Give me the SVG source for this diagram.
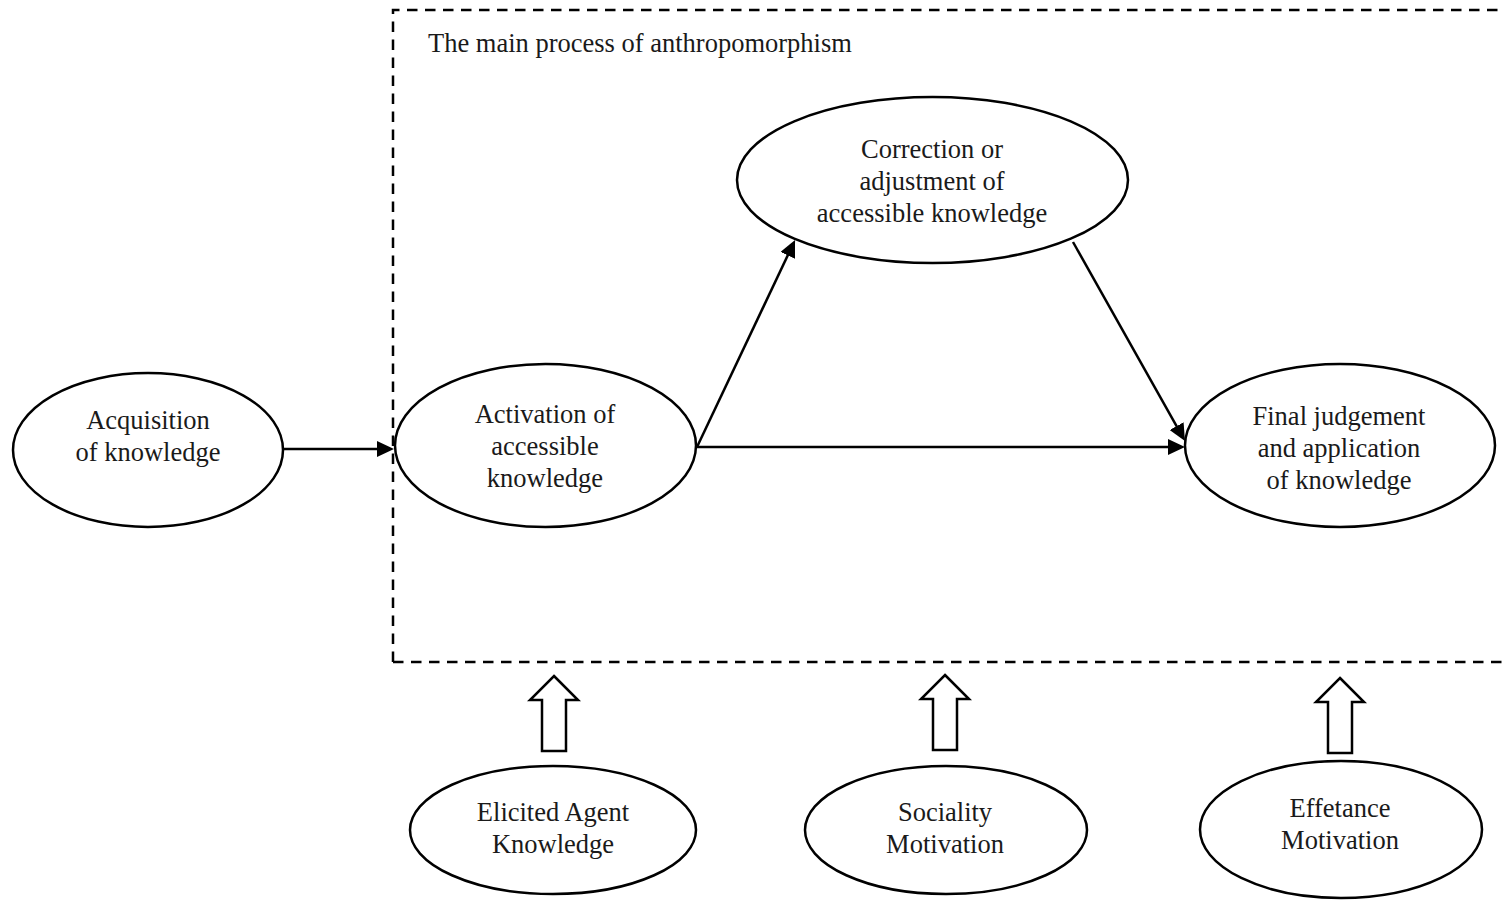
<svg xmlns="http://www.w3.org/2000/svg" width="1502" height="901" viewBox="0 0 1502 901">
<style>
.node ellipse{fill:#fff;stroke:#000;stroke-width:2.5}
.node text,.title{font-family:"Liberation Serif","Times New Roman",serif;font-size:26.5px;fill:#1a1a1a;text-anchor:middle}
.title{text-anchor:start}
.conn line{stroke:#000;stroke-width:2.5}
.frame{fill:none;stroke:#000;stroke-width:2.5;stroke-dasharray:10.5 7.5}
.block{fill:#fff;stroke:#000;stroke-width:2.5;stroke-linejoin:miter}
</style>
<defs>
<marker id="ah" markerUnits="userSpaceOnUse" markerWidth="17" markerHeight="16" viewBox="0 0 17 16" refX="12" refY="8" orient="auto">
<path d="M0,0 L17,8 L0,16 Z" fill="#000"/>
</marker>
</defs>
<rect width="1502" height="901" fill="#fff"/>
<g id="frame">
<path class="frame" d="M393,662 L393,10 L1510,10"/>
<path class="frame" d="M393,662 L1510,662"/>
<text class="title" x="428" y="52">The main process of anthropomorphism</text>
</g>
<g id="acquisition" class="node">
<ellipse cx="148" cy="450" rx="135" ry="77"/>
<text x="148" y="429">Acquisition</text>
<text x="148" y="461">of knowledge</text>
</g>
<g id="activation" class="node">
<ellipse cx="545.5" cy="445.5" rx="150.5" ry="81.5"/>
<text x="545" y="423">Activation of</text>
<text x="545" y="455">accessible</text>
<text x="545" y="487">knowledge</text>
</g>
<g id="correction" class="node">
<ellipse cx="932.5" cy="180" rx="195.5" ry="83"/>
<text x="932" y="158">Correction or</text>
<text x="932" y="190">adjustment of</text>
<text x="932" y="222">accessible knowledge</text>
</g>
<g id="final" class="node">
<ellipse cx="1340" cy="445.5" rx="155" ry="81.5"/>
<text x="1339" y="425">Final judgement</text>
<text x="1339" y="457">and application</text>
<text x="1339" y="489">of knowledge</text>
</g>
<g id="elicited" class="node">
<ellipse cx="553" cy="830" rx="143" ry="64"/>
<text x="553" y="821">Elicited Agent</text>
<text x="553" y="853">Knowledge</text>
</g>
<g id="sociality" class="node">
<ellipse cx="946" cy="830" rx="141" ry="64"/>
<text x="945" y="821">Sociality</text>
<text x="945" y="853">Motivation</text>
</g>
<g id="effetance" class="node">
<ellipse cx="1341" cy="829.5" rx="141" ry="68.5"/>
<text x="1340" y="817">Effetance</text>
<text x="1340" y="849">Motivation</text>
</g>
<g id="connectors" class="conn">
<line x1="283" y1="449" x2="389" y2="449" marker-end="url(#ah)"/>
<line x1="697" y1="447" x2="792.9" y2="244.5" marker-end="url(#ah)"/>
<line x1="697" y1="447" x2="1180" y2="447" marker-end="url(#ah)"/>
<line x1="1073" y1="242" x2="1182.5" y2="436.6" marker-end="url(#ah)"/>
<polygon class="block" points="554,676 578,700 566,700 566,751 542,751 542,700 530,700"/>
<polygon class="block" points="945,675 969,699 957,699 957,750 933,750 933,699 921,699"/>
<polygon class="block" points="1340,678 1364,702 1352,702 1352,753 1328,753 1328,702 1316,702"/>
</g>
</svg>
